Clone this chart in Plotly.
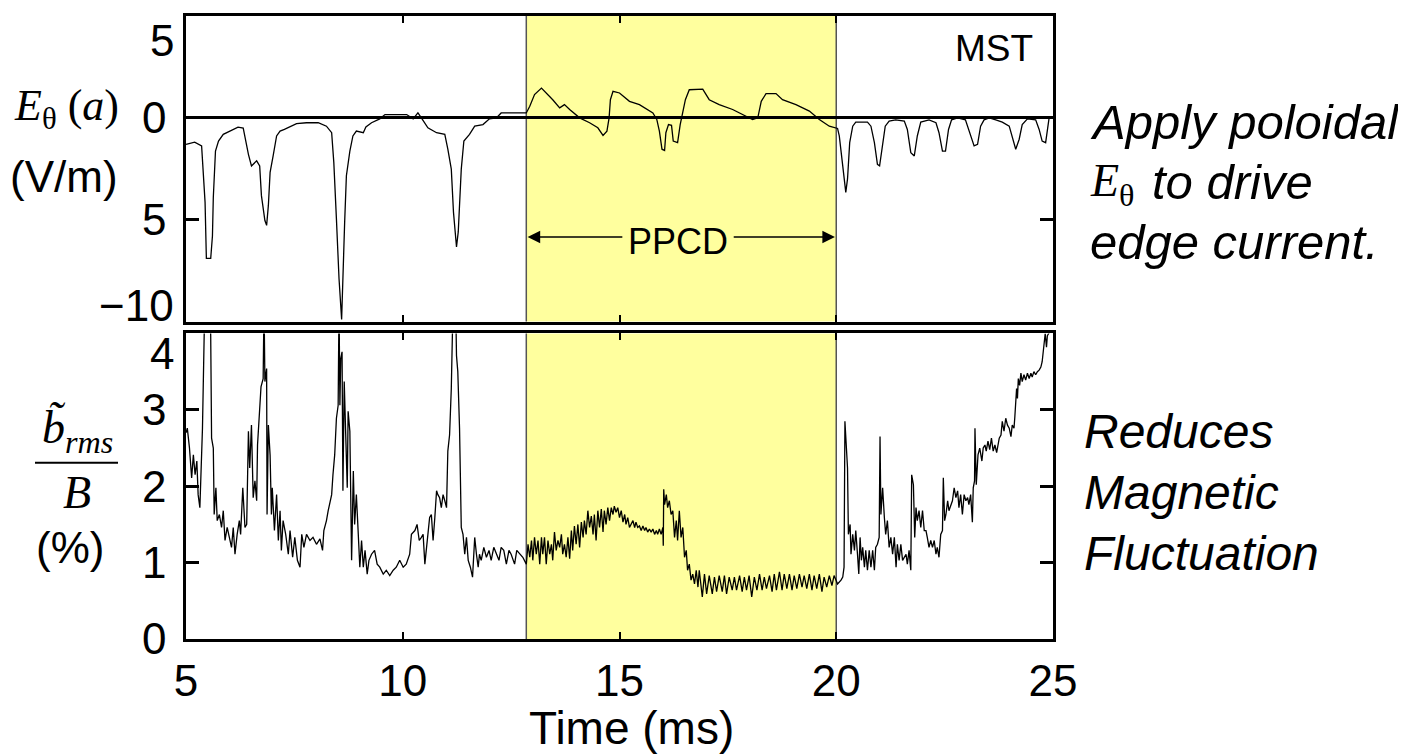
import plotly.graph_objects as go

# ---------------- data ----------------
x_ticks = [5, 10, 15, 20, 25]
ppcd_start = 12.85
ppcd_end = 20.0

# E_theta(a) [V/m]
e_time = [5.0, 5.2, 5.36, 5.39, 5.44, 5.47, 5.57, 5.61, 5.63, 5.68, 5.75, 5.86, 6.01, 6.2, 6.32,
          6.37, 6.44, 6.51, 6.63, 6.7, 6.74, 6.82, 6.86, 6.9, 6.94, 7.01, 7.09, 7.17, 7.27, 7.55,
          7.78, 8.05, 8.24, 8.36, 8.41, 8.47, 8.53, 8.59, 8.62, 8.66, 8.7, 8.78, 8.85, 8.93, 9.09,
          9.15, 9.28, 9.47, 9.59, 10.09, 10.24, 10.35, 10.43, 10.58, 10.78, 10.97, 11.04, 11.12,
          11.17, 11.24, 11.28, 11.35, 11.41, 11.54, 11.66, 11.85, 12.0, 12.16, 12.27, 12.7, 12.85,
          12.93, 13.04, 13.2, 13.31, 13.46, 13.62, 13.73, 13.85, 14.08, 14.31, 14.5, 14.62, 14.71,
          14.76, 14.79, 14.85, 15.0, 15.23, 15.46, 15.77, 15.86, 15.92, 15.98, 16.04, 16.07, 16.13,
          16.2, 16.24, 16.34, 16.4, 16.45, 16.52, 16.61, 16.92, 17.07, 17.3, 17.61, 17.92, 18.07,
          18.19, 18.27, 18.38, 18.61, 18.76, 19.07, 19.38, 19.61, 19.84, 20.03, 20.07, 20.15, 20.22,
          20.26, 20.31, 20.38, 20.45, 20.72, 20.8, 20.88, 20.95, 21.0, 21.07, 21.13, 21.22, 21.37,
          21.57, 21.64, 21.72, 21.8, 21.87, 21.95, 22.14, 22.3, 22.37, 22.45, 22.52, 22.59, 22.66,
          22.8, 22.98, 23.06, 23.18, 23.26, 23.33, 23.41, 23.53, 23.68, 23.83, 23.99, 24.06, 24.14,
          24.22, 24.29, 24.41, 24.6, 24.68, 24.75, 24.83, 24.87, 24.91, 25.0]
e_theta = [-1.3, -1.19, -1.38, -2.6, -4.15, -6.9, -6.9, -5.8, -3.9, -1.63, -1.14, -0.81, -0.65, -0.46, -0.5,
           -1.06, -1.79, -2.36, -2.11, -2.36, -3.82, -5.04, -5.28, -4.3, -2.68, -1.87, -0.89, -0.65, -0.57, -0.28,
           -0.24, -0.24, -0.41, -0.73, -2.2, -4.96, -7.9, -9.9, -7.56, -5.12, -2.84, -1.63, -0.89, -0.65, -0.73,
           -0.45, -0.24, -0.05, 0.16, 0.16, -0.05, 0.24, 0.0, -0.49, -0.73, -0.81, -1.54, -2.52,
           -4.63, -6.34, -5.6, -2.52, -1.14, -0.81, -0.41, -0.33, -0.05, 0.0, 0.24, 0.24, 0.24,
           0.57, 1.14, 1.46, 1.22, 0.89, 0.49, 0.65, 0.41, 0.0, -0.24, -0.49, -0.86, -0.65,
           0.0, 0.89, 1.3, 1.22, 0.81, 0.65, 0.24, -0.08, -0.65, -1.54, -1.6, -0.73, -0.33,
           -0.37, -1.14, -1.22, -0.33, 0.24, 0.89, 1.38, 1.41, 0.89, 0.65, 0.41, 0.08, -0.08,
           0.0, 0.81, 1.19, 1.19, 0.89, 0.65, 0.33, -0.08, -0.41, -0.52, -0.89, -2.52, -3.66,
           -3.0, -1.22, -0.41, -0.21, -0.21, -0.41, -1.22, -2.28, -2.36, -1.22, -0.41, -0.16, -0.1,
           -0.16, -0.57, -1.71, -1.87, -0.89, -0.21, -0.1, -0.24, -0.73, -1.63, -1.63, -0.57, -0.1,
           0.0, -0.1, -0.65, -1.38, -1.3, -0.41, -0.1, 0.0, -0.1, -0.21, -0.41, -0.98, -1.54,
           -1.05, -0.33, -0.05, -0.1, -0.57, -1.14, -1.22, -0.57, 0.0, 0.0]

# b_rms / B [%]
b_time = [5.0, 5.03, 5.08, 5.13, 5.17, 5.21, 5.25, 5.28, 5.32, 5.35, 5.38, 5.42, 5.45, 5.54, 5.57,
          5.59, 5.63, 5.65, 5.69, 5.72, 5.77, 5.82, 5.86, 5.9, 5.95, 6.0, 6.05, 6.09, 6.13, 6.18,
          6.23, 6.26, 6.31, 6.36, 6.4, 6.44, 6.47, 6.51, 6.55, 6.59, 6.63, 6.65, 6.69, 6.73, 6.78,
          6.8, 6.82, 6.86, 6.87, 6.9, 6.94, 6.97, 6.99, 7.04, 7.09, 7.13, 7.17, 7.2, 7.24, 7.3,
          7.36, 7.4, 7.46, 7.51, 7.57, 7.63, 7.67, 7.72, 7.78, 7.86, 7.93, 8.01, 8.09, 8.15, 8.18,
          8.24, 8.28, 8.32, 8.36, 8.39, 8.43, 8.47, 8.51, 8.53, 8.55, 8.57, 8.6, 8.62, 8.65, 8.68,
          8.72, 8.74, 8.78, 8.82, 8.86, 8.89, 8.93, 8.97, 9.01, 9.05, 9.09, 9.13, 9.18, 9.22, 9.28,
          9.35, 9.41, 9.47, 9.55, 9.62, 9.7, 9.78, 9.85, 9.93, 10.01, 10.08, 10.16, 10.2, 10.28, 10.33,
          10.38, 10.43, 10.47, 10.51, 10.55, 10.58, 10.62, 10.66, 10.7, 10.74, 10.78, 10.81, 10.85, 10.89, 10.93,
          10.97, 11.01, 11.04, 11.08, 11.12, 11.16, 11.22, 11.24, 11.27, 11.31, 11.35, 11.39, 11.43, 11.47, 11.51,
          11.56, 11.61, 11.66, 11.7, 11.74, 11.77, 11.81, 11.87, 11.93, 11.99, 12.04, 12.1, 12.16, 12.22, 12.27,
          12.33, 12.39, 12.45, 12.5, 12.58, 12.63, 12.7, 12.77, 12.85, 12.89, 12.93, 12.97, 13.0, 13.04, 13.08,
          13.12, 13.16, 13.2, 13.23, 13.27, 13.31, 13.35, 13.39, 13.43, 13.46, 13.5, 13.54, 13.58, 13.62, 13.66,
          13.69, 13.73, 13.77, 13.81, 13.85, 13.89, 13.92, 13.96, 14.0, 14.04, 14.08, 14.12, 14.16, 14.19, 14.23,
          14.27, 14.31, 14.35, 14.39, 14.42, 14.46, 14.5, 14.54, 14.58, 14.62, 14.65, 14.69, 14.73, 14.77, 14.81,
          14.85, 14.88, 14.92, 14.96, 15.0, 15.04, 15.08, 15.12, 15.15, 15.19, 15.23, 15.31, 15.35, 15.38, 15.42,
          15.46, 15.5, 15.54, 15.58, 15.61, 15.65, 15.69, 15.73, 15.77, 15.81, 15.85, 15.88, 15.92, 15.96, 16.0,
          16.01, 16.02, 16.04, 16.08, 16.11, 16.15, 16.19, 16.23, 16.27, 16.31, 16.34, 16.38, 16.42, 16.46, 16.5,
          16.54, 16.57, 16.61, 16.65, 16.69, 16.73, 16.77, 16.81, 16.84, 16.91, 16.96, 17.01, 17.07, 17.14, 17.19,
          17.24, 17.3, 17.37, 17.42, 17.47, 17.53, 17.6, 17.65, 17.7, 17.77, 17.83, 17.88, 17.93, 17.99, 18.05,
          18.11, 18.17, 18.23, 18.29, 18.34, 18.39, 18.46, 18.52, 18.57, 18.62, 18.69, 18.75, 18.8, 18.86, 18.92,
          18.98, 19.03, 19.09, 19.15, 19.21, 19.26, 19.32, 19.38, 19.44, 19.49, 19.55, 19.61, 19.67, 19.72, 19.78,
          19.84, 19.9, 19.95, 20.03, 20.11, 20.15, 20.18, 20.2, 20.24, 20.26, 20.28, 20.32, 20.34, 20.38, 20.42,
          20.45, 20.49, 20.52, 20.55, 20.58, 20.61, 20.65, 20.68, 20.72, 20.76, 20.8, 20.84, 20.88, 20.91, 20.95,
          20.99, 21.01, 21.03, 21.07, 21.11, 21.14, 21.18, 21.22, 21.26, 21.3, 21.34, 21.38, 21.41, 21.45, 21.49,
          21.53, 21.61, 21.64, 21.68, 21.72, 21.74, 21.78, 21.81, 21.84, 21.87, 21.91, 21.95, 21.99, 22.03, 22.07,
          22.1, 22.14, 22.18, 22.22, 22.26, 22.3, 22.33, 22.37, 22.41, 22.45, 22.47, 22.5, 22.53, 22.57, 22.6,
          22.64, 22.68, 22.72, 22.76, 22.8, 22.83, 22.87, 22.91, 22.95, 22.99, 23.03, 23.06, 23.1, 23.14, 23.16,
          23.19, 23.2, 23.23, 23.27, 23.31, 23.36, 23.39, 23.43, 23.46, 23.5, 23.54, 23.58, 23.62, 23.66, 23.7,
          23.76, 23.8, 23.83, 23.87, 23.91, 23.95, 23.99, 24.03, 24.06, 24.1, 24.12, 24.16, 24.18, 24.2, 24.23,
          24.26, 24.29, 24.33, 24.37, 24.41, 24.45, 24.49, 24.52, 24.56, 24.6, 24.64, 24.68, 24.72, 24.75, 24.78,
          24.8, 24.82, 24.85, 24.87, 24.9, 25.0]
b_rms = [2.7, 2.76, 2.5, 2.11, 2.41, 2.15, 2.33, 1.89, 1.72, 2.28, 2.76, 4.0, 4.6, 4.6, 3.97,
         2.63, 2.5, 1.63, 1.98, 1.55, 1.63, 1.46, 1.68, 1.29, 1.46, 1.33, 1.2, 1.46, 1.11, 1.37,
         1.55, 1.37, 1.98, 1.46, 1.5, 2.72, 2.24, 2.8, 1.85, 2.07, 1.81, 2.54, 3.02, 3.3, 3.41,
         4.4, 3.37, 3.54, 1.63, 2.8, 2.41, 1.63, 1.98, 1.42, 1.89, 1.29, 1.68, 1.16, 1.55, 1.37,
         1.11, 1.42, 1.07, 1.33, 1.03, 0.94, 1.37, 1.2, 1.37, 1.29, 1.33, 1.24, 1.31, 1.16, 1.42,
         1.55, 1.68, 1.81, 1.89, 2.15, 2.41, 2.89, 3.06, 4.4, 3.06, 3.67, 3.76, 1.94, 3.37, 2.76,
         1.98, 2.98, 2.72, 1.03, 2.2, 1.5, 1.89, 1.42, 0.94, 1.29, 0.94, 1.16, 0.85, 1.03, 1.11,
         1.16, 0.98, 0.94, 0.85, 0.9, 0.83, 0.9, 0.94, 1.03, 0.94, 0.98, 1.11, 1.37, 1.42, 1.5,
         1.29, 1.33, 1.37, 0.98, 1.2, 1.29, 1.59, 1.63, 1.29, 1.59, 1.94, 1.89, 1.85, 1.72, 1.89,
         1.81, 1.72, 2.46, 2.67, 3.28, 4.4, 4.4, 3.71, 3.5, 2.76, 1.46, 1.37, 1.11, 1.33, 1.03,
         0.94, 0.81, 1.33, 1.11, 0.94, 1.11, 1.03, 1.2, 1.07, 1.16, 1.03, 1.2, 1.11, 1.03, 1.2,
         1.16, 0.98, 1.16, 1.11, 0.98, 1.16, 1.11, 1.07, 0.98, 1.24, 1.07, 1.29, 1.03, 1.33, 1.11,
         1.29, 0.98, 1.33, 1.11, 1.33, 0.98, 1.29, 1.11, 1.24, 1.03, 1.4, 1.16, 1.29, 1.2, 1.37,
         1.11, 1.24, 1.07, 1.33, 1.05, 1.42, 1.16, 1.48, 1.24, 1.5, 1.2, 1.53, 1.33, 1.55, 1.37,
         1.68, 1.46, 1.61, 1.37, 1.63, 1.29, 1.68, 1.46, 1.7, 1.4, 1.68, 1.5, 1.72, 1.55, 1.72,
         1.63, 1.74, 1.66, 1.72, 1.59, 1.68, 1.53, 1.63, 1.5, 1.59, 1.46, 1.55, 1.46, 1.53, 1.46,
         1.48, 1.42, 1.48, 1.42, 1.46, 1.4, 1.44, 1.4, 1.44, 1.37, 1.42, 1.37, 1.44, 1.37, 1.46,
         1.22, 1.96, 1.76, 1.89, 1.72, 1.81, 1.63, 1.68, 1.33, 1.55, 1.29, 1.68, 1.33, 1.46, 1.07,
         1.16, 0.9, 0.98, 0.77, 0.85, 0.72, 0.9, 0.68, 0.9, 0.55, 0.85, 0.59, 0.83, 0.59, 0.81,
         0.62, 0.83, 0.62, 0.83, 0.59, 0.81, 0.64, 0.81, 0.64, 0.83, 0.62, 0.81, 0.64, 0.83, 0.55,
         0.81, 0.64, 0.85, 0.64, 0.81, 0.66, 0.83, 0.62, 0.85, 0.64, 0.88, 0.64, 0.85, 0.66, 0.85,
         0.64, 0.83, 0.66, 0.85, 0.68, 0.83, 0.66, 0.85, 0.64, 0.83, 0.66, 0.85, 0.62, 0.81, 0.68,
         0.83, 0.7, 0.83, 0.72, 0.77, 0.81, 0.94, 2.85, 2.28, 2.24, 1.37, 1.5, 1.11, 1.37, 1.16,
         1.42, 1.11, 0.85, 1.33, 1.03, 1.2, 0.94, 1.16, 0.9, 1.16, 0.94, 1.16, 0.9, 1.2, 1.24,
         1.33, 2.65, 1.63, 1.98, 1.59, 1.37, 1.55, 1.2, 1.33, 1.11, 1.33, 0.94, 1.24, 1.03, 1.24,
         1.03, 1.11, 0.98, 1.16, 0.9, 2.15, 2.02, 1.33, 1.72, 1.55, 1.68, 1.46, 1.68, 1.42, 1.42,
         1.33, 1.2, 1.29, 1.2, 1.29, 1.11, 1.2, 1.07, 1.37, 1.42, 2.11, 1.55, 1.63, 1.81, 1.68,
         1.76, 1.81, 1.98, 1.85, 1.94, 1.72, 1.89, 1.63, 1.89, 1.81, 1.85, 1.76, 1.89, 1.53, 1.98,
         2.07, 2.76, 2.02, 2.41, 2.5, 2.33, 2.5, 2.54, 2.46, 2.59, 2.48, 2.63, 2.46, 2.54, 2.44,
         2.63, 2.67, 2.85, 2.72, 2.89, 2.8, 2.76, 2.65, 2.8, 2.76, 2.91, 3.28, 3.15, 3.41, 3.32,
         3.48, 3.37, 3.46, 3.39, 3.48, 3.41, 3.48, 3.43, 3.5, 3.46, 3.5, 3.52, 3.56, 3.63, 3.8,
         3.89, 4.0, 3.82, 3.97, 4.0, 4.2]

# ---------------- figure ----------------
# The page body adds an 8 px offset, so the figure is laid out in screen pixels minus OFF.
OFF = 8
W, H = 1406 - OFF, 754 - OFF
L, R, T, B = 186 - OFF, 1406 - 1053, 13 - OFF, 754 - 639
PW, PH = W - L - R, H - T - B


def px_x(px):
    return (px - OFF - L) / PW


def px_y(py):
    return (T + PH - (py - OFF)) / PH


SANS = "Liberation Sans, Arial, Helvetica, sans-serif"
SERIF = "Liberation Serif, Times New Roman, serif"
YELLOW = "#FFFF9E"

fig = go.Figure()
fig.add_trace(go.Scatter(x=e_time, y=e_theta, mode="lines", xaxis="x2", yaxis="y2",
                         line=dict(color="black", width=1.3), showlegend=False, hoverinfo="skip"))
fig.add_trace(go.Scatter(x=b_time, y=b_rms, mode="lines", xaxis="x", yaxis="y",
                         line=dict(color="black", width=1.3), showlegend=False, hoverinfo="skip"))

top_dom = [px_y(320), 1.0]
bot_dom = [0.0, px_y(332)]

axis_common = dict(showline=True, linecolor="black", linewidth=2.5, mirror="ticks",
                   ticks="inside", tickcolor="black", showgrid=False,
                   tickfont=dict(family=SANS, size=44, color="black"))

fig.update_layout(
    width=W, height=H,
    margin=dict(l=L, r=R, t=T, b=B, pad=0),
    paper_bgcolor="white", plot_bgcolor="white",
    xaxis=dict(**axis_common, range=[5, 25], tickvals=x_ticks, ticklen=7, tickwidth=2,
               anchor="y", domain=[0, 1], zeroline=False, ticklabelstandoff=1),
    xaxis2=dict(**axis_common, range=[5, 25], tickvals=x_ticks, ticklen=7, tickwidth=2,
                anchor="y2", domain=[0, 1], matches="x", showticklabels=False, zeroline=False),
    yaxis=dict(**axis_common, range=[0, 4.0], tickvals=[0, 1, 2, 3, 4],
               ticktext=["0", "1", "2", "3", ""], ticklen=13, tickwidth=2.5,
               domain=bot_dom, anchor="x", zeroline=False, ticklabelstandoff=8),
    yaxis2=dict(**axis_common, range=[-10, 5.0], tickvals=[-10, -5, 0, 5],
                ticktext=["", "5", "0", ""], ticklen=13, tickwidth=2.5,
                domain=top_dom, anchor="x2", zeroline=True, zerolinecolor="black",
                zerolinewidth=2.5, ticklabelstandoff=8),
)

shapes = []
for xr, yr in (("x", "y domain"), ("x2", "y2 domain")):
    shapes.append(dict(type="rect", xref=xr, yref=yr, x0=ppcd_start, x1=ppcd_end, y0=0, y1=1,
                       fillcolor=YELLOW, line=dict(width=0), layer="below"))
    for xv in (ppcd_start, ppcd_end):
        shapes.append(dict(type="line", xref=xr, yref=yr, x0=xv, x1=xv, y0=0, y1=1,
                           line=dict(color="#555555", width=1.5), layer="below"))
# fraction bar of b_rms / B
shapes.append(dict(type="line", xref="paper", yref="paper", x0=px_x(35), x1=px_x(118),
                   y0=px_y(462), y1=px_y(462), line=dict(color="black", width=2)))
fig.update_layout(shapes=shapes)

ann = []


def txt(text, x, y, size, family=SANS, xanchor="center", yanchor="middle"):
    ann.append(dict(text=text, x=x, y=y, xref="paper", yref="paper", showarrow=False,
                    xanchor=xanchor, yanchor=yanchor,
                    font=dict(family=family, size=size, color="black")))


# edge tick labels (shifted inward as in the original)
txt("5", px_x(176), px_y(38), 44, xanchor="right")
txt("\u221210", px_x(176), px_y(304), 44, xanchor="right")
txt("4", px_x(176), px_y(352), 44, xanchor="right")

# left axis labels
txt("<i>E</i><sub>\u03b8</sub> (<i>a</i>)", px_x(67), px_y(106), 44, family=SERIF)
txt("(V/m)", px_x(64), px_y(174), 44)
txt("<i>b\u0303</i><sub><i>rms</i></sub>", px_x(77), px_y(430), 46, family=SERIF)
txt("<i>B</i>", px_x(77), px_y(492), 46, family=SERIF)
txt("(%)", px_x(70), px_y(547), 44)

# x axis title
txt("Time (ms)", px_x(631), px_y(728), 46)

# right-hand notes
txt("<i>Apply poloidal</i>", px_x(1088), px_y(120), 49, xanchor="left")
txt("<i>E</i><sub>\u03b8</sub>", px_x(1088), px_y(182), 46, family=SERIF, xanchor="left")
txt("<i>to drive</i>", px_x(1150), px_y(180), 49, xanchor="left")
txt("<i>edge current.</i>", px_x(1088), px_y(240), 49, xanchor="left")
txt("<i>Reduces</i>", px_x(1082), px_y(430), 48, xanchor="left")
txt("<i>Magnetic</i>", px_x(1082), px_y(492), 48, xanchor="left")
txt("<i>Fluctuation</i>", px_x(1082), px_y(553), 48, xanchor="left")

# MST label and PPCD arrow
ann.append(dict(text="MST", x=23.65, y=3.4, xref="x2", yref="y2", showarrow=False,
                font=dict(family=SANS, size=37, color="black")))
ann.append(dict(text="PPCD", x=16.35, y=-6.05, xref="x2", yref="y2", showarrow=False,
                font=dict(family=SANS, size=36, color="black")))
for head, tail in ((ppcd_start + 0.03, 15.1), (ppcd_end - 0.03, 17.6)):
    ann.append(dict(text="", x=head, y=-5.85, ax=tail, ay=-5.85, xref="x2", yref="y2",
                    axref="x2", ayref="y2", showarrow=True, arrowhead=2, arrowsize=1.8,
                    arrowwidth=1.4, arrowcolor="black", standoff=0, startstandoff=0))

fig.update_layout(annotations=ann)

fig.write_html("out.html")
